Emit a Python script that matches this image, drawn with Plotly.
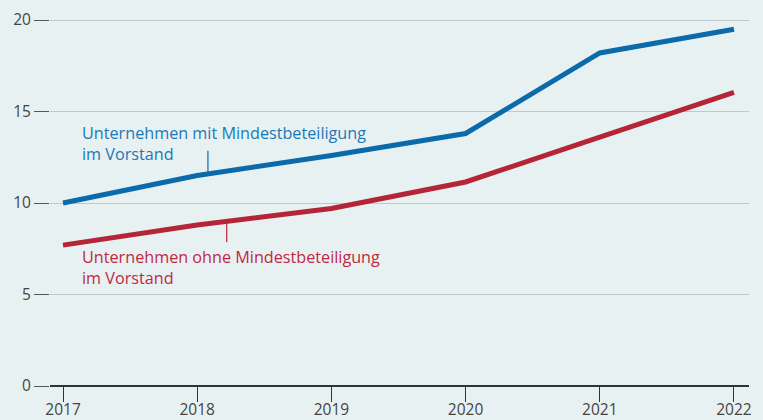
import plotly.graph_objects as go

years = [2017, 2018, 2019, 2020, 2021, 2022]
mit = [10.0, 11.5, 12.6, 13.8, 18.2, 19.5]
ohne = [7.7, 8.8, 9.7, 11.15, 13.6, 16.05]
y_ticks = [0, 5, 10, 15, 20]

blue = "#0a6aaa"
red = "#b42538"
bg = "#e8f1f2"
font = "Open Sans"

fig = go.Figure()
fig.add_trace(go.Scatter(x=years, y=mit, mode="lines",
                         line=dict(color=blue, width=5), hoverinfo="skip"))
fig.add_trace(go.Scatter(x=years, y=ohne, mode="lines",
                         line=dict(color=red, width=5), hoverinfo="skip"))

# pointer lines
fig.add_shape(type="line", x0=2018.08, x1=2018.08, y0=11.7, y1=12.85,
              line=dict(color=blue, width=1.2))
fig.add_shape(type="line", x0=2018.22, x1=2018.22, y0=7.85, y1=8.9,
              line=dict(color=red, width=1.2))

fig.add_annotation(x=2017.125, y=13.25, xref="x", yref="y", xanchor="left", yanchor="middle",
                   text="Unternehmen mit Mindestbeteiligung<br>im Vorstand", showarrow=False,
                   align="left", font=dict(family=font, size=16.2, color="#1a78b8"))
fig.add_annotation(x=2017.125, y=6.48, xref="x", yref="y", xanchor="left", yanchor="middle",
                   text="Unternehmen ohne Mindestbeteiligung<br>im Vorstand", showarrow=False,
                   align="left", font=dict(family=font, size=16.2, color="#c0283f"))

fig.update_layout(
    width=763, height=420,
    margin=dict(l=50, r=14, t=14, b=34),
    paper_bgcolor=bg, plot_bgcolor=bg,
    showlegend=False,
    font=dict(family=font, size=15, color="#444444"),
    xaxis=dict(range=[2016.903, 2022.112], tickmode="array", tickvals=years,
               ticktext=[str(y) for y in years], ticks="outside", ticklen=15,
               tickcolor="#333333", tickwidth=1.2, showgrid=False, zeroline=False,
               showline=False, fixedrange=True, automargin=False,
               ticklabelstandoff=-6,
               tickfont=dict(family=font, size=15.5, color="#444444")),
    yaxis=dict(range=[0, 20.33], tickmode="array", tickvals=y_ticks,
               ticks="outside", ticklen=15, tickcolor="#555555", tickwidth=1.2,
               showgrid=True, gridcolor="#c3c7c9", gridwidth=1.3,
               zeroline=True, zerolinecolor="#333333", zerolinewidth=1.6,
               showline=False, fixedrange=True, automargin=False,
               tickfont=dict(family=font, size=15.5, color="#444444")),
)
fig.write_html(
    "out.html",
    config={"displayModeBar": False},
    post_script="document.body.style.margin='0';document.body.style.overflow='hidden';"
                "document.body.style.background='" + bg + "';",
)
